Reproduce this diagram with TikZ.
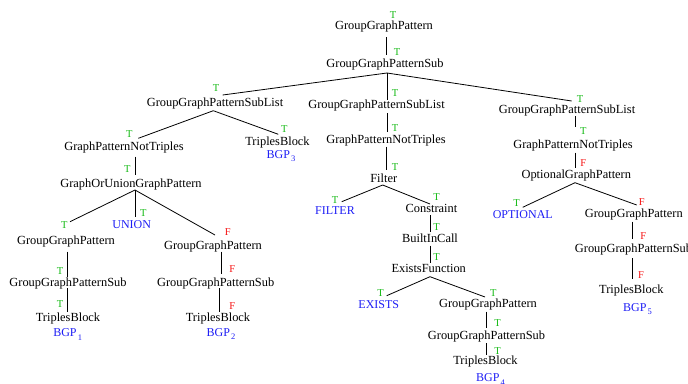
\documentclass[tikz,border=0pt]{standalone}
\usepackage{fontspec}
\setmainfont{Liberation Serif}
\definecolor{tg}{RGB}{20,185,20}
\definecolor{fr}{RGB}{245,20,20}
\definecolor{kb}{RGB}{30,30,245}
\newcommand\conn[6]{\draw[edge] ([shift={(#2,#3)}]#1.center) -- ([shift={(#5,#6)}]#4.center);}
\newcommand\bgpsub[1]{BGP\kern1.2pt\raisebox{-3.5pt}{\fontsize{8.5}{9}\selectfont #1}}
\begin{document}
\begin{tikzpicture}[x=1pt,y=-1pt,
  every node/.style={inner sep=0pt},
  tn/.style={font=\fontsize{12.4}{14}\selectfont, text height=8.5pt, text depth=2.5pt},
  kw/.style={font=\fontsize{12}{14}\selectfont, text=kb, text height=8.5pt, text depth=2.5pt},
  tl/.style={font=\fontsize{10.5}{12}\selectfont, text=tg},
  fl/.style={font=\fontsize{10.5}{12}\selectfont, text=fr},
  edge/.style={line width=0.8pt}]
\useasboundingbox (0,0) rectangle (688,383);
% tree nodes
\node[tn] (A) at (384,26) {GroupGraphPattern};
\node[tn] (B) at (385,64) {GroupGraphPatternSub};
\node[tn] (C1) at (215,103) {GroupGraphPatternSubList};
\node[tn] (C2) at (376.5,105) {GroupGraphPatternSubList};
\node[tn] (C3) at (567,110) {GroupGraphPatternSubList};
\node[tn] (D1) at (124,147) {GraphPatternNotTriples};
\node[tn] (D2) at (277.5,142) {TriplesBlock};
\node[kw] (bgp3) at (281,155) {\bgpsub{3}};
\node[tn] (E) at (131,184) {GraphOrUnionGraphPattern};
\node[tn] (F1) at (66,241) {GroupGraphPattern};
\node[kw] (UN) at (131.7,225) {UNION};
\node[tn] (F2) at (213,246) {GroupGraphPattern};
\node[tn] (G1) at (68,283.3) {GroupGraphPatternSub};
\node[tn] (G2) at (215.7,283.3) {GroupGraphPatternSub};
\node[tn] (H1) at (68,318.3) {TriplesBlock};
\node[tn] (H2) at (218,318.3) {TriplesBlock};
\node[kw] (bgp1) at (67.7,333.8) {\bgpsub{1}};
\node[kw] (bgp2) at (221,333.2) {\bgpsub{2}};
\node[tn] (D3) at (386,140) {GraphPatternNotTriples};
\node[tn] (Fi) at (383.7,179.3) {Filter};
\node[kw] (FI) at (335,211.7) {FILTER};
\node[tn] (Co) at (431.5,209.8) {Constraint};
\node[tn] (Bi) at (430,239) {BuiltInCall};
\node[tn] (Ex) at (428.7,269) {ExistsFunction};
\node[kw] (EX) at (378.8,305.7) {EXISTS};
\node[tn] (G4) at (488,304) {GroupGraphPattern};
\node[tn] (S4) at (486.5,336) {GroupGraphPatternSub};
\node[tn] (T4) at (485.5,361.7) {TriplesBlock};
\node[kw] (bgp4) at (490.5,378.8) {\bgpsub{4}};
\node[tn] (D4) at (573,145) {GraphPatternNotTriples};
\node[tn] (E4) at (576.3,175) {OptionalGraphPattern};
\node[kw] (OP) at (522.8,215.7) {OPTIONAL};
\node[tn] (G5) at (633.8,214) {GroupGraphPattern};
\node[tn] (S5) at (633.5,249) {GroupGraphPatternSub};
\node[tn] (T5) at (631.3,290) {TriplesBlock};
\node[kw] (bgp5) at (637.5,308.2) {\bgpsub{5}};
% connectors
\conn{A}{2.7}{11}{B}{1.7}{-9}
\conn{B}{2}{9}{C1}{7.7}{-8}
\conn{B}{2}{9}{C2}{10.5}{-5}
\conn{B}{2}{9}{C3}{4.7}{-9}
\conn{C1}{-1.7}{7.7}{D1}{14.3}{-8.7}
\conn{C1}{-1.7}{7.7}{D2}{0.8}{-7.7}
\conn{C2}{10.5}{8}{D3}{1}{-8}
\conn{C3}{8}{6}{D4}{2}{-18.3}
\conn{D1}{11}{9.7}{E}{4}{-9}
\conn{E}{4}{6}{F1}{4}{-19.3}
\conn{E}{4}{6}{UN}{3.3}{-7.7}
\conn{E}{4}{6}{F2}{2}{-11}
\conn{F1}{1.7}{10.7}{G1}{-0.3}{-6.6}
\conn{G1}{-0.3}{5}{H1}{-0.3}{-6.6}
\conn{F2}{8}{5.7}{G2}{5.3}{-9.3}
\conn{G2}{3.3}{4.7}{H2}{1}{-6.6}
\conn{D3}{0.7}{6.7}{Fi}{3}{-9.3}
\conn{Fi}{-1}{5.7}{FI}{6.7}{-10}
\conn{Fi}{-1}{5.7}{Co}{-1.5}{-5.8}
\conn{Co}{-0.8}{5.2}{Bi}{0.7}{-7.3}
\conn{Bi}{0.7}{6.7}{Ex}{2}{-6.3}
\conn{Ex}{1.3}{7.7}{EX}{7.9}{-10}
\conn{Ex}{1.3}{7.7}{G4}{-3}{-7}
\conn{G4}{-1.3}{7.7}{S4}{0.2}{-7.7}
\conn{S4}{0.2}{7.3}{T4}{1.2}{-6.7}
\conn{D4}{2}{7.7}{E4}{-1.3}{-6.7}
\conn{E4}{-1.3}{7.7}{OP}{-0.1}{-8.4}
\conn{E4}{-1.3}{7.7}{G5}{2.9}{-9}
\conn{G5}{-1.1}{7.7}{S5}{-0.8}{-9.7}
\conn{S5}{-0.8}{9.3}{T5}{1.4}{-10.7}
% edge labels
\node[tl] (lA) at (393,15) {T};
\node[tl] (lB) at (397,52) {T};
\node[tl] (lC1) at (216,88) {T};
\node[tl] (lC2) at (395,93) {T};
\node[tl] (lC3) at (580,99) {T};
\node[tl] (lD1) at (129.3,134.3) {T};
\node[tl] (lD2) at (284.3,129.3) {T};
\node[tl] (lD3) at (395,128) {T};
\node[tl] (lE) at (127.3,169.3) {T};
\node[tl] (lF1) at (64.3,225) {T};
\node[tl] (lUN) at (143.3,213.3) {T};
\node[fl] (lF2) at (227.7,231.7) {F};
\node[tl] (lG1) at (60,270.7) {T};
\node[tl] (lH1) at (60,304) {T};
\node[fl] (lG2) at (232.3,269.3) {F};
\node[fl] (lH2) at (232.3,306) {F};
\node[tl] (lFi) at (395,167.3) {T};
\node[tl] (lFI) at (335,200) {T};
\node[tl] (lCo) at (436.7,197.5) {T};
\node[tl] (lBi) at (436.7,227) {T};
\node[tl] (lEx) at (436.7,257.5) {T};
\node[tl] (lEX) at (380.7,292.7) {T};
\node[tl] (lG4) at (493.3,292.7) {T};
\node[tl] (lS4) at (497.7,322.7) {T};
\node[tl] (lT4) at (497.7,350.7) {T};
\node[tl] (lD4) at (583.3,130.7) {T};
\node[fl] (lE4) at (583.3,163.5) {F};
\node[tl] (lOP) at (516.7,203.3) {T};
\node[fl] (lG5) at (641.7,202.3) {F};
\node[fl] (lS5) at (643.3,235.7) {F};
\node[fl] (lT5) at (641,275) {F};
\end{tikzpicture}
\end{document}
